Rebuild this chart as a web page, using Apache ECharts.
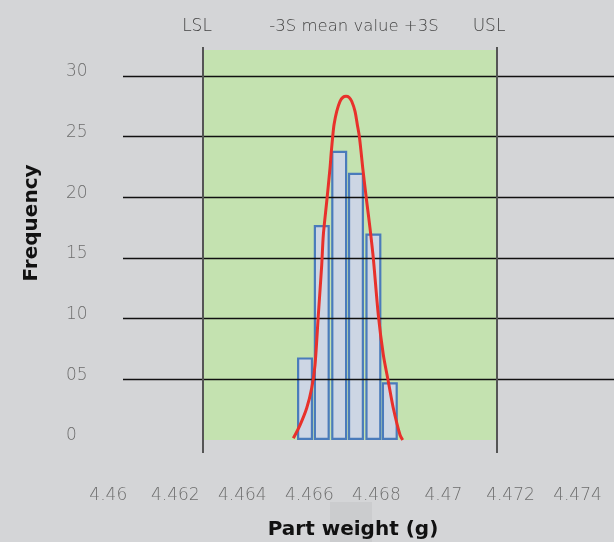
<!DOCTYPE html>
<html><head><meta charset="utf-8">
<script src="https://cdn.jsdelivr.net/npm/echarts@6/dist/echarts.min.js"></script>
<style>html,body{margin:0;padding:0;background:#d4d5d7}#c{width:614px;height:542px}</style>
</head><body><div id="c"></div><script>
// ---- data ----
const binCenters = [4.46587, 4.46637, 4.46689, 4.46739, 4.46791, 4.46840];
const frequencies = [6.8, 17.7, 23.8, 22.0, 17.0, 4.75];
const curveX = [4.465521, 4.465721, 4.465921, 4.466070, 4.466168, 4.466267, 4.466368, 4.466416, 4.466517, 4.466616, 4.466655, 4.466697, 4.466735, 4.466816, 4.466914, 4.467004, 4.467093, 4.467183, 4.467263, 4.467362, 4.467431, 4.467490, 4.467541, 4.467592, 4.467711, 4.467810, 4.467908, 4.468057, 4.468207, 4.468356, 4.468505, 4.468705, 4.468785];
const curveY = [0.14, 1.23, 2.63, 4.28, 6.17, 10.29, 14.40, 16.87, 19.61, 22.39, 23.76, 25.00, 25.95, 27.05, 27.88, 28.21, 28.29, 28.21, 27.88, 27.05, 25.95, 25.00, 23.76, 22.39, 19.61, 17.42, 14.95, 10.29, 7.00, 4.80, 2.61, 0.41, 0];
const xTickLabels = ['4.46', '4.462', '4.464', '4.466', '4.468', '4.47', '4.472', '4.474'];
const yTickLabels = ['0', '05', '10', '15', '20', '25', '30'];
const LSL = 4.46282, USL = 4.47160;
const specLabels = ['LSL', '-3S mean value +3S', 'USL'];
const xTitle = 'Part weight (g)';
const yTitle = 'Frequency';

const X_MIN = 4.46, X_MAX = 4.475, X_INT = 0.002;
const labelFont = 'DejaVu Sans';

const chart = echarts.init(document.getElementById('c'));
const xAxisBase = {type: 'value', min: X_MIN, max: X_MAX, interval: X_INT,
  axisLine: {show: false}, axisTick: {show: false}, splitLine: {show: false}};

chart.setOption({
  backgroundColor: '#d4d5d7',
  animation: false,
  grid: [
    {left: 108.3, right: 3, top: 50, bottom: 102},   // data grid
    {left: 123, right: 0, top: 76, bottom: 102},     // gridlines
    {left: 108.3, right: 3, top: 47, bottom: 89},    // spec limit lines
    {left: 123, right: 0, top: 72, bottom: 106}      // y tick labels
  ],
  xAxis: [
    Object.assign({}, xAxisBase, {gridIndex: 0,
      axisLabel: {show: true, showMaxLabel: false, margin: 47, fontSize: 17, color: '#6e6e6e',
        fontFamily: labelFont, fontWeight: 300,
        formatter: v => xTickLabels[Math.round((v - X_MIN) / X_INT)] || ''}}),
    {type: 'value', gridIndex: 1, min: 0, max: 1, show: false},
    Object.assign({}, xAxisBase, {gridIndex: 2, axisLabel: {show: false}}),
    {type: 'value', gridIndex: 3, min: 0, max: 1, show: false}
  ],
  yAxis: [
    {type: 'value', gridIndex: 0, min: 0, max: 32.1, show: false},
    {type: 'value', gridIndex: 1, min: 0, max: 30, interval: 5, z: 3,
      axisLine: {show: false}, axisTick: {show: false}, axisLabel: {show: false},
      splitLine: {show: true, showMinLine: false, lineStyle: {color: '#111', width: 1.3}}},
    {type: 'value', gridIndex: 2, min: 0, max: 1, show: false},
    {type: 'value', gridIndex: 3, min: 0, max: 30, interval: 5,
      axisLine: {show: false}, axisTick: {show: false}, splitLine: {show: false},
      axisLabel: {align: 'left', margin: 57, fontSize: 17, color: '#6e6e6e', fontFamily: labelFont,
        fontWeight: 300, formatter: v => yTickLabels[Math.round(v / 5)]}}
  ],
  series: [
    {type: 'line', xAxisIndex: 0, yAxisIndex: 0, data: [], z: 1, silent: true,
      markArea: {silent: true, itemStyle: {color: '#c4e2b0'},
        data: [[{xAxis: LSL}, {xAxis: USL}]]}},
    {type: 'bar', xAxisIndex: 0, yAxisIndex: 0, z: 2, barWidth: 16,
      data: binCenters.map((x, i) => [x, frequencies[i]]),
      itemStyle: {color: '#cdd6e4', borderColor: '#4a7bbb', borderWidth: 2.2}},
    {type: 'line', xAxisIndex: 0, yAxisIndex: 0, z: 4, smooth: 0.25, showSymbol: false,
      data: curveX.map((x, i) => [x, curveY[i]]),
      lineStyle: {color: '#e8312b', width: 3}},
    {type: 'line', xAxisIndex: 2, yAxisIndex: 2, z: 5, data: [], silent: true,
      markLine: {silent: true, symbol: 'none', precision: 6, label: {show: false},
        lineStyle: {color: '#555', width: 2, type: 'solid'},
        data: [{xAxis: LSL}, {xAxis: USL}]}}
  ],
  graphic: [
    {type: 'rect', shape: {x: 330, y: 502, width: 42, height: 40}, style: {fill: '#cbccce'}, z: -1},
    {type: 'text', x: 197, y: 27, style: {text: specLabels[0], fontSize: 17, fill: '#444', fontFamily: labelFont, fontWeight: 300, align: 'center', verticalAlign: 'middle'}},
    {type: 'text', x: 354, y: 27, style: {text: specLabels[1], fontSize: 16.5, fill: '#444', fontFamily: labelFont, fontWeight: 300, align: 'center', verticalAlign: 'middle'}},
    {type: 'text', x: 489, y: 27, style: {text: specLabels[2], fontSize: 17, fill: '#444', fontFamily: labelFont, fontWeight: 300, align: 'center', verticalAlign: 'middle'}},
    {type: 'text', x: 353, y: 530, style: {text: xTitle, fontSize: 20, fontWeight: 'bold', fill: '#111', fontFamily: 'DejaVu Sans', align: 'center', verticalAlign: 'middle'}},
    {type: 'text', x: 31.5, y: 223, rotation: Math.PI / 2, style: {text: yTitle, fontSize: 20, fontWeight: 'bold', fill: '#111', fontFamily: 'DejaVu Sans', align: 'center', verticalAlign: 'middle'}}
  ]
});
</script></body></html>
